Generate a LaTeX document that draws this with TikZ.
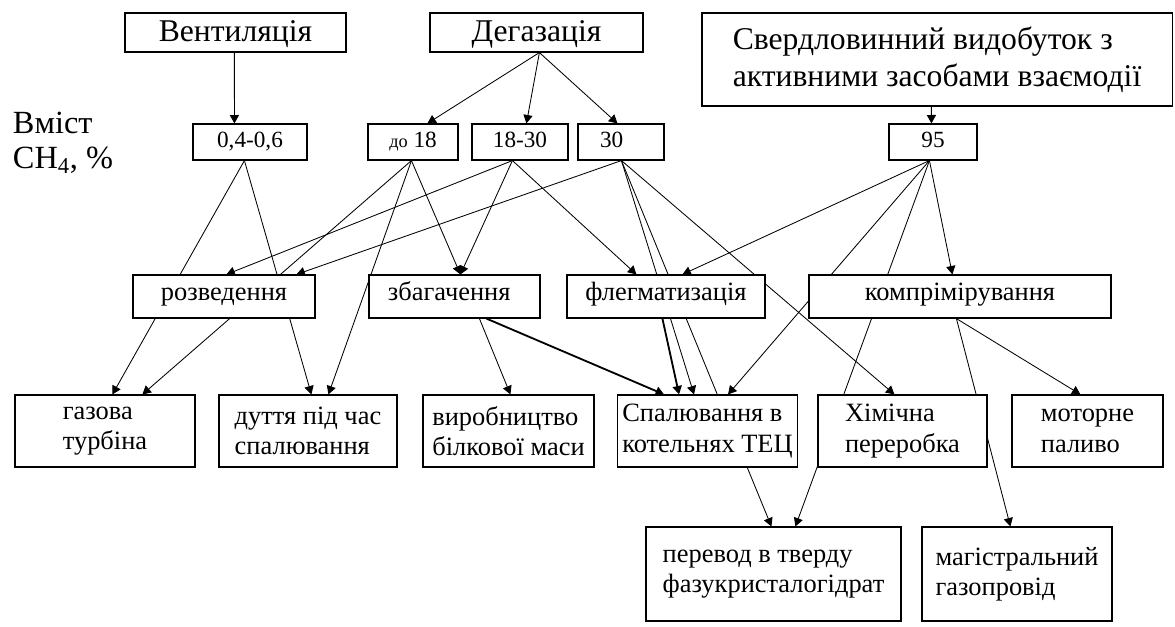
\documentclass[tikz,border=0pt]{standalone}
\usepackage{fontspec}
\setmainfont{Liberation Serif}
\usetikzlibrary{arrows.meta,calc}
\tikzstyle{every picture} = [x=0.025cm, y=-0.025cm]
\tikzstyle{box} = [draw, fill=white, line width=0.8pt, align=left, font=\fontsize{18.8}{21.5}\selectfont]
\tikzstyle{head} = [box, font=\fontsize{22.5}{26}\selectfont]
\tikzstyle{num} = [box, minimum height=0.9cm, text height=9pt, text depth=0.5pt, font=\fontsize{16.5}{19}\selectfont]
\tikzstyle{mid} = [box, minimum height=1.075cm, text height=7pt, text depth=1.3pt]
\tikzstyle{low} = [box, minimum height=1.8cm]
\tikzstyle{arr} = [-{Triangle[length=6pt,width=6.5pt]}, line width=0.6pt]
\tikzstyle{fat} = [arr, line width=1.3pt]
\pgfdeclarelayer{back}
\pgfsetlayers{back,main}

\begin{document}
\begin{tikzpicture}
            \useasboundingbox (0,0) rectangle (1175,626);

            \node (vent) at (235.5,32.5) [head, minimum width=5.525cm, minimum height=0.975cm, text height=15pt, text depth=1.5pt] {Вентиляція};
            \node (degas) at (536.5,32.5) [head, minimum width=5.325cm, minimum height=0.975cm, text height=15pt, text depth=1.5pt] {Дегазація};
            \node (drill) at (937,59.5) [head, minimum width=11.75cm, minimum height=2.325cm] {Свердловинний видобуток з\\активними засобами взаємодії};

            \node (share) at (8,143) [anchor=west, align=left, font=\fontsize{23}{25}\selectfont] {Вміст\\CH\textsubscript{4}, \%};

            \node (c1) at (250,142) [num, minimum width=2.85cm] {0,4-0,6};
            \node (c2) at (413,142) [num, minimum width=2.25cm] {{\fontsize{13}{15}\selectfont до} 18};
            \node (c3) at (520,142) [num, minimum width=2.4cm] {18-30};
            \node (c4) at (621,142) [num, minimum width=2.15cm] {30\hspace{0.8em}};
            \node (c5) at (933,142) [num, minimum width=2.2cm] {95};

            \node (dil) at (224,296.5) [mid, minimum width=4.55cm] {розведення};
            \node (enr) at (454.5,296.5) [mid, minimum width=4.275cm] {збагачення\hspace{0.4em}};
            \node (phl) at (666,296.5) [mid, minimum width=4.95cm] {флегматизація};
            \node (comp) at (960,296.5) [mid, minimum width=7.55cm] {компрімірування};

            \node (gt) at (105,431) [low, minimum width=4.5cm] {газова\\турбіна};
            \node (blow) at (308,431) [low, minimum width=4.45cm] {дуття під час\\спалювання};
            \node (prot) at (508.5,431) [low, minimum width=4.275cm] {виробництво\\білкової маси};
            \node (burn) at (707.5,431) [low, minimum width=4.325cm] {Спалювання в\\котельнях ТЕЦ};
            \node (chem) at (902.5,431) [low, minimum width=4.225cm] {Хімічна\\переробка};
            \node (fuel) at (1087.5,431) [low, minimum width=3.775cm] {моторне\\паливо};

            \node (solid) at (773.5,574) [box, minimum width=6.375cm, minimum height=2.35cm] {перевод в тверду\\фазукристалогідрат};
            \node (pipe) at (1017,574) [box, minimum width=4.75cm, minimum height=2.35cm] {магістральний\\газопровід};

            \begin{pgfonlayer}{back}
            \path 	($(vent.south west)+(110,0)$) edge[arr] ($(c1.north west)+(42,0)$)
            		($(degas.south west)+(110,0)$) edge[arr] ($(c2.north west)+(60,0)$)
            		($(degas.south west)+(110,0)$) edge[arr] ($(c3.north west)+(55,0)$)
            		($(degas.south west)+(110,0)$) edge[arr] ($(c4.north west)+(40,0)$)
            		($(drill.south west)+(230,0)$) edge[arr] ($(c5.north west)+(43,0)$)
            		($(c1.south west)+(52,0)$) edge[arr] ($(gt.north west)+(98,0)$)
            		($(c1.south west)+(52,0)$) edge[arr] ($(blow.north west)+(93,0)$)
            		($(c2.south west)+(44,0)$) edge[arr] ($(gt.north west)+(128,0)$)
            		($(c2.south west)+(44,0)$) edge[arr] ($(blow.north west)+(110,0)$)
            		($(c2.south west)+(44,0)$) edge[arr] ($(enr.north west)+(92,0)$)
            		($(c3.south west)+(41,0)$) edge[arr] ($(dil.north west)+(94,0)$)
            		($(c3.south west)+(41,0)$) edge[arr] ($(enr.north west)+(92,0)$)
            		($(c3.south west)+(41,0)$) edge[arr] ($(phl.north west)+(70,0)$)
            		($(c4.south west)+(44,0)$) edge[arr] ($(dil.north west)+(164,0)$)
            		($(c4.south west)+(44,0)$) edge[arr] ($(burn.north west)+(77,0)$)
            		($(c4.south west)+(44,0)$) edge[arr] ($(solid.north west)+(126,0)$)
            		($(c4.south west)+(44,0)$) edge[arr] ($(chem.north west)+(77,0)$)
            		($(c5.south west)+(41,0)$) edge[arr] ($(phl.north west)+(116,0)$)
            		($(c5.south west)+(41,0)$) edge[arr] ($(burn.north west)+(111,0)$)
            		($(c5.south west)+(41,0)$) edge[arr] ($(solid.north west)+(150,0)$)
            		($(c5.south west)+(41,0)$) edge[arr] ($(comp.north west)+(144,0)$)
            		($(enr.south west)+(111,0)$) edge[arr] ($(prot.north west)+(88,0)$)
            		($(enr.south west)+(118,0)$) edge[fat] ($(burn.north west)+(47,0)$)
            		($(phl.south west)+(96,0)$) edge[fat] ($(burn.north west)+(62,0)$)
            		($(comp.south west)+(148,0)$) edge[arr] ($(pipe.north west)+(89,0)$)
            		($(comp.south west)+(148,0)$) edge[arr] ($(fuel.north west)+(69,0)$);
            \end{pgfonlayer}
\end{tikzpicture}
\end{document}
